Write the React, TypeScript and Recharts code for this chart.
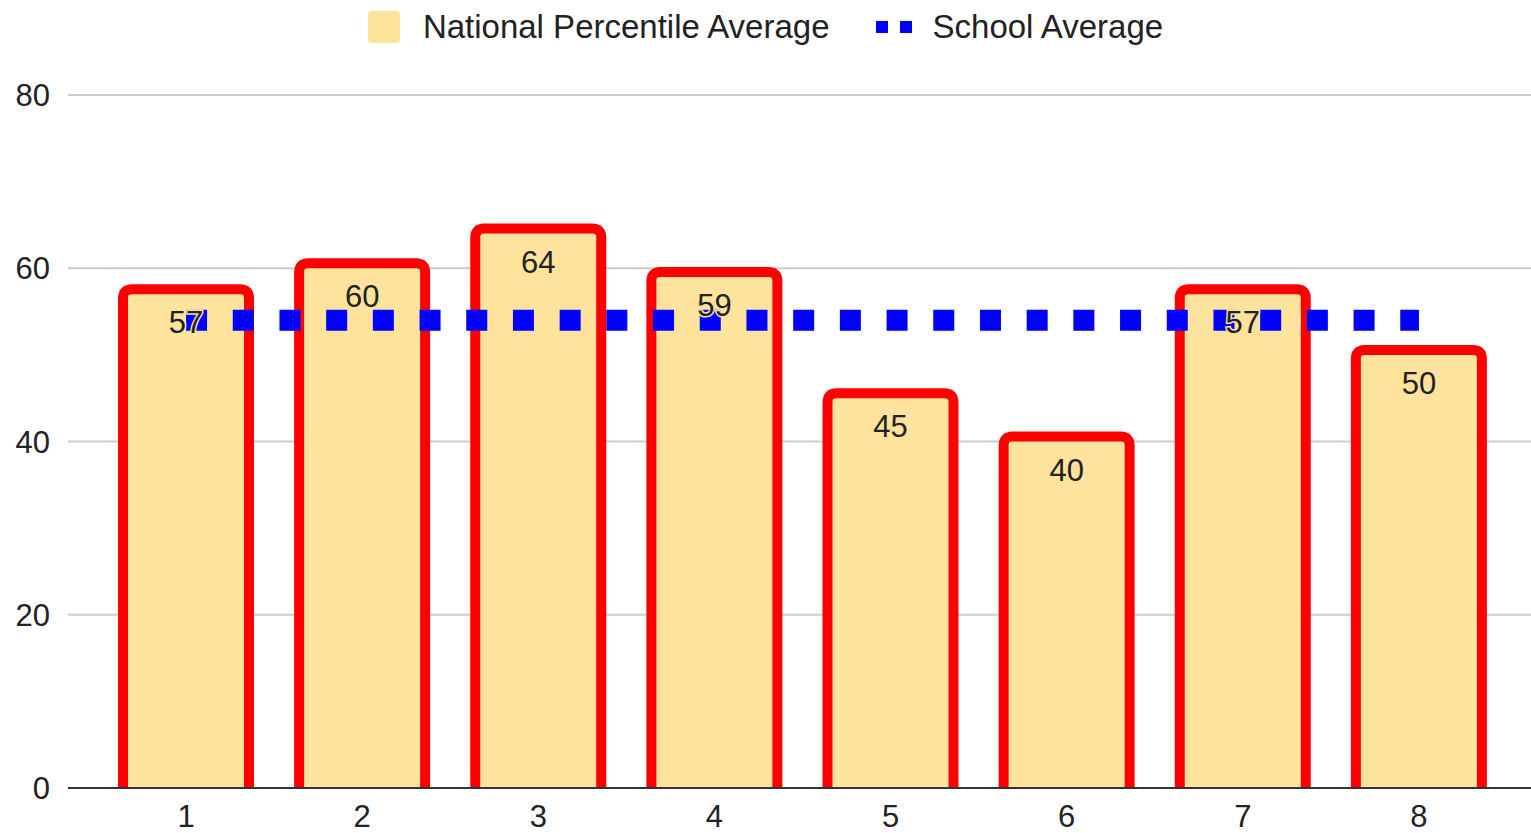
import React from "react"
import { ComposedChart, Bar, Line, XAxis, YAxis, CartesianGrid, Legend, LabelList } from "recharts"

const grades = ["1", "2", "3", "4", "5", "6", "7", "8"]
const nationalPercentile = [57, 60, 64, 59, 45, 40, 57, 50]
const schoolAverage = [54, 54, 54, 54, 54, 54, 54, 54]
const yTicks = [0, 20, 40, 60, 80]

const FONT = '"Liberation Sans", Arial, sans-serif'
const BAR_FILL = "#fde39b"
const BAR_STROKE = "#ff0000"
const LINE_BLUE = "#0000ff"
const TEXT = "#222222"
const STROKE_W = 10

const data = grades.map((g, i) => ({
  grade: g,
  national: nationalPercentile[i],
  school: schoolAverage[i],
}))

// bar with rounded top, border drawn outside the value edge, no border along the bottom
const TopRoundedBar = (props: any) => {
  const { x, y, width, height } = props
  if (!height || height <= 0) return null
  const h = STROKE_W / 2
  const top = y - h
  const bottom = y + height
  const r = 9
  const d = `M${x},${bottom} L${x},${top + r} Q${x},${top} ${x + r},${top} L${x + width - r},${top} Q${x + width},${top} ${x + width},${top + r} L${x + width},${bottom}`
  return <path d={d} fill={BAR_FILL} stroke={BAR_STROKE} strokeWidth={STROKE_W} strokeLinejoin="round" />
}

const renderLegend = () => (
  <div style={{ height: 95, width: 1531 }}>
    <div
      style={{
        height: 54,
        display: "flex",
        alignItems: "center",
        justifyContent: "center",
        fontFamily: FONT,
        fontSize: 33,
        color: TEXT,
      }}
    >
      <div style={{ width: 32, height: 32, background: BAR_FILL, borderRadius: 3, marginRight: 23 }} />
      <span>National Percentile Average</span>
      <div style={{ display: "flex", marginLeft: 46, marginRight: 21 }}>
        <div style={{ width: 12, height: 12, background: LINE_BLUE }} />
        <div style={{ width: 12, height: 12, background: LINE_BLUE, marginLeft: 12 }} />
      </div>
      <span>School Average</span>
    </div>
  </div>
)

export default function App() {
  return (
    <div style={{ position: "absolute", left: 0, top: 0, background: "#fff" }}>
      <ComposedChart width={1531} height={833} data={data} margin={{ top: 0, right: 0, bottom: 0, left: 0 }}>
        <CartesianGrid vertical={false} stroke="#cccccc" strokeWidth={2} />
        <Legend verticalAlign="top" align="center" content={renderLegend} wrapperStyle={{ left: 0, top: 0 }} />
        <XAxis
          dataKey="grade"
          height={45}
          padding={{ left: 30, right: 24 }}
          tickSize={0}
          tickMargin={17}
          axisLine={{ stroke: "#333333", strokeWidth: 2 }}
          tick={{ fill: TEXT, fontSize: 31, fontFamily: FONT }}
        />
        <YAxis
          width={68}
          domain={[0, 80]}
          ticks={yTicks}
          axisLine={false}
          tickLine={false}
          tickSize={0}
          tickMargin={18}
          tick={{ fill: TEXT, fontSize: 31, fontFamily: FONT }}
        />
        <Bar dataKey="national" barSize={126} shape={TopRoundedBar} isAnimationActive={false} />
        <Line
          dataKey="school"
          stroke={LINE_BLUE}
          strokeWidth={21}
          strokeDasharray="21 25.7"
          strokeLinecap="butt"
          dot={false}
          activeDot={false}
          isAnimationActive={false}
        />
        {/* invisible series so the value labels sit above the dotted line */}
        <Line dataKey="national" stroke="none" dot={false} activeDot={false} isAnimationActive={false}>
          <LabelList
            dataKey="national"
            position="bottom"
            offset={17}
            fill={TEXT}
            fontSize={31}
            fontFamily={FONT}
            stroke={BAR_FILL}
            strokeWidth={3}
            paintOrder="stroke"
          />
        </Line>
      </ComposedChart>
    </div>
  )
}
